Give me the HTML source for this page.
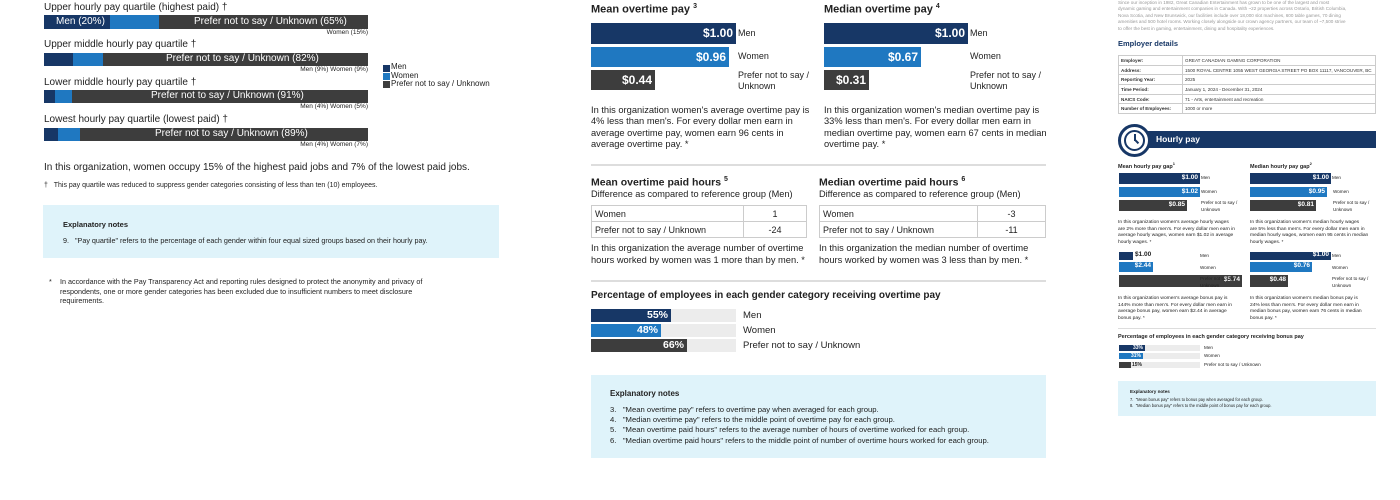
<!DOCTYPE html>
<html><head><meta charset="utf-8"><style>
*{margin:0;padding:0;box-sizing:border-box}
body{width:1400px;height:500px;background:#fff;position:relative;overflow:hidden;font-family:"Liberation Sans",sans-serif;color:#222}
.a{position:absolute;white-space:nowrap}
.n{background:#173766}.b{background:#1f78c1}.d{background:#3d3d3d}.g{background:#ececec}
.bt{position:absolute;color:#fff;font-weight:bold;text-align:right}
.box{position:absolute;background:#dff3fa}
.hr{position:absolute;height:2px;background:#ddd}
table{border-collapse:collapse;position:absolute}
td{border:1px solid #ccc}
</style></head><body>
<!-- LEFT -->
<div class="a" style="left:44px;top:2px;font-size:10px">Upper hourly pay quartile (highest paid) †</div>
<div class="a n" style="left:44px;top:15px;width:66px;height:14px"></div>
<div class="a b" style="left:110px;top:15px;width:49px;height:14px"></div>
<div class="a d" style="left:159px;top:15px;width:209px;height:14px"></div>
<div class="a" style="left:56px;top:16px;font-size:10px;color:#fff">Men (20%)</div>
<div class="a" style="left:194px;top:16px;font-size:10px;color:#fff">Prefer not to say / Unknown (65%)</div>
<div class="a" style="right:1032px;top:29px;font-size:6.5px">Women (15%)</div>

<div class="a" style="left:44px;top:39px;font-size:10px">Upper middle hourly pay quartile †</div>
<div class="a n" style="left:44px;top:53px;width:29px;height:13px"></div>
<div class="a b" style="left:73px;top:53px;width:30px;height:13px"></div>
<div class="a d" style="left:103px;top:53px;width:265px;height:13px"></div>
<div class="a" style="left:166px;top:53px;font-size:10px;color:#fff">Prefer not to say / Unknown (82%)</div>
<div class="a" style="right:1032px;top:66px;font-size:6.5px">Men (9%) Women (9%)</div>

<div class="a" style="left:44px;top:77px;font-size:10px">Lower middle hourly pay quartile †</div>
<div class="a n" style="left:44px;top:90px;width:11px;height:13px"></div>
<div class="a b" style="left:55px;top:90px;width:17px;height:13px"></div>
<div class="a d" style="left:72px;top:90px;width:296px;height:13px"></div>
<div class="a" style="left:151px;top:90px;font-size:10px;color:#fff">Prefer not to say / Unknown (91%)</div>
<div class="a" style="right:1032px;top:103px;font-size:6.5px">Men (4%) Women (5%)</div>

<div class="a" style="left:44px;top:114px;font-size:10px">Lowest hourly pay quartile (lowest paid) †</div>
<div class="a n" style="left:44px;top:128px;width:14px;height:13px"></div>
<div class="a b" style="left:58px;top:128px;width:22px;height:13px"></div>
<div class="a d" style="left:80px;top:128px;width:288px;height:13px"></div>
<div class="a" style="left:155px;top:128px;font-size:10px;color:#fff">Prefer not to say / Unknown (89%)</div>
<div class="a" style="right:1032px;top:141px;font-size:6.5px">Men (4%) Women (7%)</div>

<div class="a n" style="left:383px;top:65px;width:7px;height:7px"></div>
<div class="a b" style="left:383px;top:73px;width:7px;height:7px"></div>
<div class="a d" style="left:383px;top:81px;width:7px;height:7px"></div>
<div class="a" style="left:391px;top:63px;font-size:8px;line-height:8.5px">Men<br>Women<br>Prefer not to say / Unknown</div>

<div class="a" style="left:44px;top:162px;font-size:10px">In this organization, women occupy 15% of the highest paid jobs and 7% of the lowest paid jobs.</div>
<div class="a" style="left:44px;top:182px;font-size:7px">†&nbsp;&nbsp;&nbsp;This pay quartile was reduced to suppress gender categories consisting of less than ten (10) employees.</div>
<div class="box" style="left:43px;top:205px;width:456px;height:53px"></div>
<div class="a" style="left:63px;top:220px;font-size:7.5px;font-weight:bold">Explanatory notes</div>
<div class="a" style="left:63px;top:236px;font-size:7.2px">9.&nbsp;&nbsp;&nbsp;"Pay quartile" refers to the percentage of each gender within four equal sized groups based on their hourly pay.</div>
<div class="a" style="left:49px;top:277px;font-size:7.2px;line-height:9.5px">*</div>
<div class="a" style="left:60px;top:277px;font-size:7.2px;line-height:9.5px">In accordance with the Pay Transparency Act and reporting rules designed to protect the anonymity and privacy of<br>respondents, one or more gender categories has been excluded due to insufficient numbers to meet disclosure<br>requirements.</div>

<!-- MIDDLE -->
<div class="a" style="left:591px;top:3px;font-size:11px;font-weight:bold">Mean overtime pay <sup style="font-size:7px">3</sup></div>
<div class="a n" style="left:591px;top:23px;width:145px;height:21px"></div>
<div class="a b" style="left:591px;top:47px;width:138px;height:20px"></div>
<div class="a d" style="left:591px;top:70px;width:64px;height:20px"></div>
<div class="bt" style="left:591px;top:26px;width:142px;font-size:12px">$1.00</div>
<div class="bt" style="left:591px;top:50px;width:135px;font-size:12px">$0.96</div>
<div class="bt" style="left:591px;top:73px;width:61px;font-size:12px">$0.44</div>
<div class="a" style="left:738px;top:28px;font-size:9px">Men</div>
<div class="a" style="left:738px;top:51px;font-size:9px">Women</div>
<div class="a" style="left:738px;top:70px;font-size:9px;line-height:11px">Prefer not to say /<br>Unknown</div>
<div class="a" style="left:591px;top:105px;font-size:9.3px;line-height:11.3px">In this organization women's average overtime pay is<br>4% less than men's. For every dollar men earn in<br>average overtime pay, women earn 96 cents in<br>average overtime pay. *</div>

<div class="a" style="left:824px;top:3px;font-size:11px;font-weight:bold">Median overtime pay <sup style="font-size:7px">4</sup></div>
<div class="a n" style="left:824px;top:23px;width:144px;height:21px"></div>
<div class="a b" style="left:824px;top:47px;width:97px;height:20px"></div>
<div class="a d" style="left:824px;top:70px;width:45px;height:20px"></div>
<div class="bt" style="left:824px;top:26px;width:141px;font-size:12px">$1.00</div>
<div class="bt" style="left:824px;top:50px;width:94px;font-size:12px">$0.67</div>
<div class="bt" style="left:824px;top:73px;width:42px;font-size:12px">$0.31</div>
<div class="a" style="left:970px;top:28px;font-size:9px">Men</div>
<div class="a" style="left:970px;top:51px;font-size:9px">Women</div>
<div class="a" style="left:970px;top:70px;font-size:9px;line-height:11px">Prefer not to say /<br>Unknown</div>
<div class="a" style="left:824px;top:105px;font-size:9.3px;line-height:11.3px">In this organization women's median overtime pay is<br>33% less than men's. For every dollar men earn in<br>median overtime pay, women earn 67 cents in median<br>overtime pay. *</div>

<div class="hr" style="left:591px;top:164px;width:455px"></div>

<div class="a" style="left:591px;top:176px;font-size:10.5px;font-weight:bold">Mean overtime paid hours <sup style="font-size:7px">5</sup></div>
<div class="a" style="left:591px;top:189px;font-size:9.2px">Difference as compared to reference group (Men)</div>
<table style="left:591px;top:205px;width:216px;font-size:9px">
<tr style="height:16px"><td style="padding-left:3px;width:152px">Women</td><td style="text-align:center">1</td></tr>
<tr style="height:16px"><td style="padding-left:3px">Prefer not to say / Unknown</td><td style="text-align:center">-24</td></tr></table>
<div class="a" style="left:591px;top:243px;font-size:9.3px;line-height:11.5px">In this organization the average number of overtime<br>hours worked by women was 1 more than by men. *</div>

<div class="a" style="left:819px;top:176px;font-size:10.5px;font-weight:bold">Median overtime paid hours <sup style="font-size:7px">6</sup></div>
<div class="a" style="left:819px;top:189px;font-size:9.2px">Difference as compared to reference group (Men)</div>
<table style="left:819px;top:205px;width:227px;font-size:9px">
<tr style="height:16px"><td style="padding-left:3px;width:158px">Women</td><td style="text-align:center">-3</td></tr>
<tr style="height:16px"><td style="padding-left:3px">Prefer not to say / Unknown</td><td style="text-align:center">-11</td></tr></table>
<div class="a" style="left:819px;top:243px;font-size:9.3px;line-height:11.5px">In this organization the median number of overtime<br>hours worked by women was 3 less than by men. *</div>

<div class="hr" style="left:591px;top:280px;width:455px"></div>
<div class="a" style="left:591px;top:290px;font-size:10px;font-weight:bold">Percentage of employees in each gender category receiving overtime pay</div>
<div class="a g" style="left:591px;top:309px;width:145px;height:13px"></div>
<div class="a g" style="left:591px;top:324px;width:145px;height:13px"></div>
<div class="a g" style="left:591px;top:339px;width:145px;height:13px"></div>
<div class="a n" style="left:591px;top:309px;width:80px;height:13px"></div>
<div class="a b" style="left:591px;top:324px;width:70px;height:13px"></div>
<div class="a d" style="left:591px;top:339px;width:96px;height:13px"></div>
<div class="bt" style="left:591px;top:309px;width:77px;font-size:10.5px">55%</div>
<div class="bt" style="left:591px;top:324px;width:67px;font-size:10.5px">48%</div>
<div class="bt" style="left:591px;top:339px;width:93px;font-size:10.5px">66%</div>
<div class="a" style="left:743px;top:310px;font-size:9.5px">Men</div>
<div class="a" style="left:743px;top:325px;font-size:9.5px">Women</div>
<div class="a" style="left:743px;top:340px;font-size:9.5px">Prefer not to say / Unknown</div>

<div class="box" style="left:591px;top:375px;width:455px;height:83px"></div>
<div class="a" style="left:610px;top:389px;font-size:8px;font-weight:bold">Explanatory notes</div>
<div class="a" style="left:610px;top:405px;font-size:7.7px;line-height:10.2px">3.&nbsp;&nbsp;&nbsp;"Mean overtime pay" refers to overtime pay when averaged for each group.<br>4.&nbsp;&nbsp;&nbsp;"Median overtime pay" refers to the middle point of overtime pay for each group.<br>5.&nbsp;&nbsp;&nbsp;"Mean overtime paid hours" refers to the average number of hours of overtime worked for each group.<br>6.&nbsp;&nbsp;&nbsp;"Median overtime paid hours" refers to the middle point of number of overtime hours worked for each group.</div>

<!-- RIGHT -->
<div class="a" style="left:1118px;top:0px;font-size:4.6px;line-height:6.4px;color:#999">Since our inception in 1982, Great Canadian Entertainment has grown to be one of the largest and most<br>dynamic gaming and entertainment companies in Canada. With ~22 properties across Ontario, British Columbia,<br>Nova Scotia, and New Brunswick, our facilities include over 18,000 slot machines, 600 table games, 70 dining<br>amenities and 500 hotel rooms. Working closely alongside our crown agency partners, our team of ~7,500 strive<br>to offer the best in gaming, entertainment, dining and hospitality experiences.</div>
<div class="a" style="left:1118px;top:39px;font-size:7.5px;font-weight:bold;color:#173766">Employer details</div>
<table style="left:1118px;top:55px;width:258px;font-size:4.6px;color:#333">
<tr style="height:9.7px"><td style="width:64px;font-weight:bold;padding-left:2px">Employer:</td><td style="padding-left:2px">GREAT CANADIAN GAMING CORPORATION</td></tr>
<tr style="height:9.7px"><td style="font-weight:bold;padding-left:2px">Address:</td><td style="padding-left:2px">1500 ROYAL CENTRE 1055 WEST GEORGIA STREET PO BOX 11117, VANCOUVER, BC</td></tr>
<tr style="height:9.7px"><td style="font-weight:bold;padding-left:2px">Reporting Year:</td><td style="padding-left:2px">2025</td></tr>
<tr style="height:9.7px"><td style="font-weight:bold;padding-left:2px">Time Period:</td><td style="padding-left:2px">January 1, 2024 - December 31, 2024</td></tr>
<tr style="height:9.7px"><td style="font-weight:bold;padding-left:2px">NAICS Code:</td><td style="padding-left:2px">71 - Arts, entertainment and recreation</td></tr>
<tr style="height:9.7px"><td style="font-weight:bold;padding-left:2px">Number of Employees:</td><td style="padding-left:2px">1000 or more</td></tr></table>
<div class="a n" style="left:1148px;top:131px;width:228px;height:17px"></div>
<div class="a" style="left:1118px;top:124px;width:33px;height:33px;border-radius:50%;background:#fff;border:3px solid #173766"></div>
<div class="a" style="left:1124px;top:130px;width:21px;height:21px;border-radius:50%;border:2px solid #173766"></div>
<div class="a" style="left:1134px;top:134px;width:1.5px;height:7px;background:#173766"></div>
<div class="a" style="left:1134px;top:140px;width:1.5px;height:5px;background:#173766;transform:rotate(-45deg);transform-origin:top"></div>
<div class="a" style="left:1156px;top:134px;font-size:8.5px;font-weight:bold;color:#fff">Hourly pay</div>

<div class="a" style="left:1118px;top:161px;font-size:5.5px;font-weight:bold">Mean hourly pay gap<sup style="font-size:4px">1</sup></div>
<div class="a n" style="left:1119px;top:173px;width:81px;height:11px"></div>
<div class="a b" style="left:1119px;top:187px;width:81px;height:10px"></div>
<div class="a d" style="left:1119px;top:200px;width:68px;height:11px"></div>
<div class="bt" style="left:1119px;top:174px;width:79px;font-size:6.5px">$1.00</div>
<div class="bt" style="left:1119px;top:188px;width:79px;font-size:6.5px">$1.02</div>
<div class="bt" style="left:1119px;top:201px;width:66px;font-size:6.5px">$0.85</div>
<div class="a" style="left:1201px;top:175px;font-size:4.6px">Men</div>
<div class="a" style="left:1201px;top:189px;font-size:4.6px">Women</div>
<div class="a" style="left:1201px;top:200px;font-size:4.6px;line-height:6.5px">Prefer not to say /<br>Unknown</div>
<div class="a" style="left:1118px;top:220px;font-size:4.9px;line-height:6.5px">In this organization women's average hourly wages<br>are 2% more than men's. For every dollar men earn in<br>average hourly wages, women earn $1.02 in average<br>hourly wages. *</div>

<div class="a" style="left:1250px;top:161px;font-size:5.5px;font-weight:bold">Median hourly pay gap<sup style="font-size:4px">2</sup></div>
<div class="a n" style="left:1250px;top:173px;width:81px;height:11px"></div>
<div class="a b" style="left:1250px;top:187px;width:77px;height:10px"></div>
<div class="a d" style="left:1250px;top:200px;width:66px;height:11px"></div>
<div class="bt" style="left:1250px;top:174px;width:79px;font-size:6.5px">$1.00</div>
<div class="bt" style="left:1250px;top:188px;width:75px;font-size:6.5px">$0.95</div>
<div class="bt" style="left:1250px;top:201px;width:64px;font-size:6.5px">$0.81</div>
<div class="a" style="left:1332px;top:175px;font-size:4.6px">Men</div>
<div class="a" style="left:1333px;top:189px;font-size:4.6px">Women</div>
<div class="a" style="left:1333px;top:200px;font-size:4.6px;line-height:6.5px">Prefer not to say /<br>Unknown</div>
<div class="a" style="left:1250px;top:220px;font-size:4.9px;line-height:6.5px">In this organization women's median hourly wages<br>are 5% less than men's. For every dollar men earn in<br>median hourly wages, women earn 95 cents in median<br>hourly wages. *</div>

<div class="a n" style="left:1119px;top:252px;width:14px;height:8px"></div>
<div class="a" style="left:1135px;top:251px;font-size:6.5px;font-weight:bold">$1.00</div>
<div class="a b" style="left:1119px;top:262px;width:34px;height:10px"></div>
<div class="bt" style="left:1119px;top:262px;width:32px;font-size:6.5px">$2.44</div>
<div class="a d" style="left:1119px;top:275px;width:123px;height:12px"></div>
<div class="bt" style="left:1119px;top:276px;width:121px;font-size:6.5px">$5.74</div>
<div class="a" style="left:1200px;top:253px;font-size:4.6px">Men</div>
<div class="a" style="left:1200px;top:265px;font-size:4.6px">Women</div>
<div class="a" style="left:1244px;top:276px;font-size:4.6px;line-height:6.5px;display:none">x</div>
<div class="a" style="left:1118px;top:296px;font-size:4.9px;line-height:6.5px">In this organization women's average bonus pay is<br>144% more than men's. For every dollar men earn in<br>average bonus pay, women earn $2.44 in average<br>bonus pay. *</div>

<div class="a n" style="left:1250px;top:252px;width:81px;height:8px"></div>
<div class="bt" style="left:1250px;top:251px;width:79px;font-size:6.5px">$1.00</div>
<div class="a b" style="left:1250px;top:262px;width:62px;height:10px"></div>
<div class="bt" style="left:1250px;top:262px;width:60px;font-size:6.5px">$0.76</div>
<div class="a d" style="left:1250px;top:275px;width:38px;height:12px"></div>
<div class="bt" style="left:1250px;top:276px;width:36px;font-size:6.5px">$0.48</div>
<div class="a" style="left:1332px;top:253px;font-size:4.6px">Men</div>
<div class="a" style="left:1332px;top:265px;font-size:4.6px">Women</div>
<div class="a" style="left:1332px;top:276px;font-size:4.6px;line-height:6.5px">Prefer not to say /<br>Unknown</div>
<div class="a" style="left:1250px;top:296px;font-size:4.9px;line-height:6.5px">In this organization women's median bonus pay is<br>24% less than men's. For every dollar men earn in<br>median bonus pay, women earn 76 cents in median<br>bonus pay. *</div>

<div class="hr" style="left:1118px;top:328px;width:258px;height:1px"></div>
<div class="a" style="left:1118px;top:334px;font-size:5.5px;font-weight:bold">Percentage of employees in each gender category receiving bonus pay</div>
<div class="a g" style="left:1119px;top:345px;width:81px;height:6px"></div>
<div class="a g" style="left:1119px;top:353px;width:81px;height:6px"></div>
<div class="a g" style="left:1119px;top:362px;width:81px;height:6px"></div>
<div class="a n" style="left:1119px;top:345px;width:26px;height:6px"></div>
<div class="a b" style="left:1119px;top:353px;width:24px;height:6px"></div>
<div class="a d" style="left:1119px;top:362px;width:12px;height:6px"></div>
<div class="bt" style="left:1119px;top:345px;width:24px;font-size:5px;line-height:6px">33%</div>
<div class="bt" style="left:1119px;top:353px;width:22px;font-size:5px;line-height:6px">31%</div>
<div class="a" style="left:1132px;top:362px;font-size:5px;line-height:6px;font-weight:bold">15%</div>
<div class="a" style="left:1204px;top:345px;font-size:4.6px">Men</div>
<div class="a" style="left:1204px;top:353px;font-size:4.6px">Women</div>
<div class="a" style="left:1204px;top:362px;font-size:4.6px">Prefer not to say / Unknown</div>

<div class="box" style="left:1118px;top:381px;width:258px;height:35px"></div>
<div class="a" style="left:1130px;top:389px;font-size:4.6px;font-weight:bold">Explanatory notes</div>
<div class="a" style="left:1130px;top:397px;font-size:4.1px;line-height:6px">7.&nbsp;&nbsp;"Mean bonus pay" refers to bonus pay when averaged for each group.<br>8.&nbsp;&nbsp;"Median bonus pay" refers to the middle point of bonus pay for each group.</div>
<div class="a" style="left:1200px;top:276px;font-size:4.6px;line-height:6.5px">Prefer not to say /<br>Unknown</div>
</body></html>
